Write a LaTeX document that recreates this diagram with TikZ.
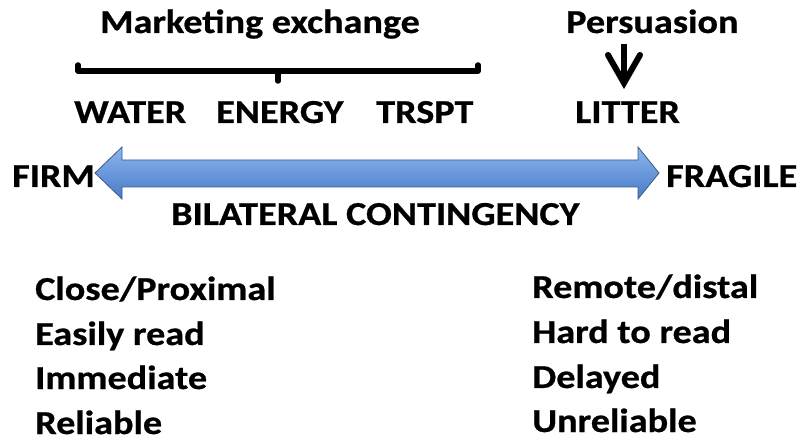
\documentclass[tikz,border=0pt]{standalone}
\usepackage{fontspec}
\setmainfont[FakeStretch=1.14, BoldFeatures={FakeBold=0.7}]{Carlito}
\begin{document}
\begin{tikzpicture}[x=1pt,y=-1pt,
  lbl/.style={font=\bfseries\fontsize{33.5}{36}\selectfont, anchor=base west, inner sep=0pt, text=black},
  ink/.style={line width=5.5pt, line cap=round, line join=round}]
\useasboundingbox (0,0) rectangle (803,443);
% top labels
\node[lbl] (mkt) at (100,33) {Marketing exchange};
\node[lbl] (pers) at (566,33) {Persuasion};
% bracket
\coordinate (bl) at (78,65);
\coordinate (br) at (478,65);
\coordinate (bm) at (278,71);
\coordinate (bt) at (278,81);
\draw[ink] (bl) -- (78,71) -- (478,71) -- (br);
\draw[ink] (bm) -- (bt);
% persuasion arrow
\coordinate (pa) at (624,44);
\coordinate (pb) at (624,83);
\draw[ink, line width=6.5pt, line cap=butt] (pa) -- (624,78);
\draw[ink, line width=6pt, line join=miter] (608,55) -- (pb) -- (640,55);
% middle labels
\node[lbl] (water) at (74,123) {WATER};
\node[lbl] (energy) at (216,123) {ENERGY};
\node[lbl] (trspt) at (376,123) {TRSPT};
\node[lbl] (litter) at (575,123) {LITTER};
% double arrow
\shade[top color={rgb,255:red,140;green,182;blue,240}, bottom color={rgb,255:red,72;green,122;blue,198}, draw={rgb,255:red,60;green,90;blue,135}, line width=0.8pt, line join=miter]
  (95,173) -- (122,147) -- (122,160) -- (638,160) -- (638,147) -- (659,173)
  -- (638,199) -- (638,187) -- (122,187) -- (122,199) -- cycle;
\node[lbl] (firm) at (12,187) {FIRM};
\node[lbl] (fragile) at (666,187) {FRAGILE};
\node[lbl] (bil) at (171,225) {BILATERAL CONTINGENCY};
% lists
\node[lbl] (l1) at (35,300) {Close/Proximal};
\node[lbl] (l2) at (35,345) {Easily read};
\node[lbl] (l3) at (35,389) {Immediate};
\node[lbl] (l4) at (35,434) {Reliable};
\node[lbl] (r1) at (532,298) {Remote/distal};
\node[lbl] (r2) at (532,343) {Hard to read};
\node[lbl] (r3) at (532,388) {Delayed};
\node[lbl] (r4) at (532,432) {Unreliable};
\end{tikzpicture}
\end{document}
